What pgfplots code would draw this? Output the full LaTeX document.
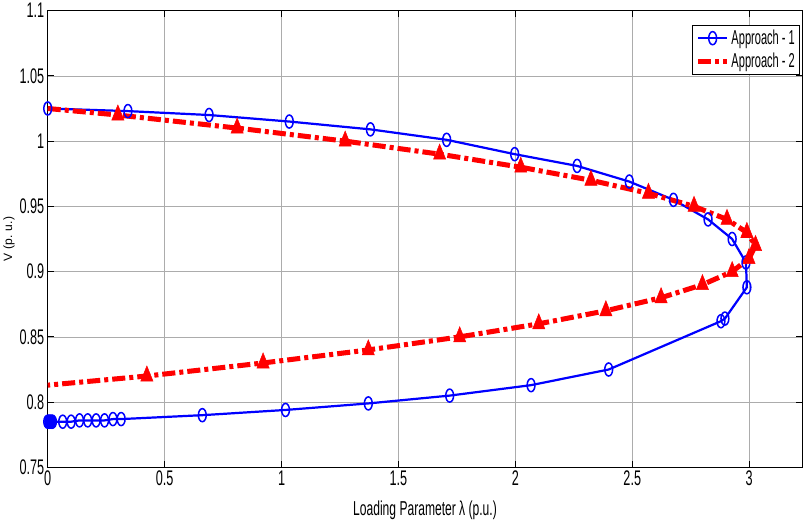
\documentclass[border=0pt]{standalone}
\usepackage{fontspec}
\setmainfont{Liberation Sans}[FakeStretch=0.6]
\newfontfamily\ylabfont{Liberation Sans}
\newfontfamily\legfont{Liberation Sans}[FakeStretch=0.55]
\usepackage{pgfplots}
\pgfplotsset{compat=1.18}

\begin{document}
\begin{tikzpicture}
\begin{axis}[
    scale only axis,
    width=750pt, height=454pt,
    xmin=0, xmax=3.227,
    ymin=0.75, ymax=1.1,
    xtick={0,0.5,...,3},
    ytick={0.75,0.8,...,1.1},
    xticklabels={0,0.5,1,1.5,2,2.5,3},
    yticklabels={0.75,0.8,0.85,0.9,0.95,1,1.05,1.1},
    /pgf/number format/assume math mode=true,
    tick label style={font=\fontsize{21}{23}\selectfont},
    tick align=inside,
    major tick length=6pt,
    grid=major,
    grid style={gray!65, line width=0.7pt},
    axis line style={black, line width=1.4pt},
    major tick style={black, line width=1pt},
    xlabel={Loading Parameter λ (p.u.)},
    ylabel={V (p. u.)},
    xlabel style={font=\fontsize{20}{22}\selectfont, yshift=-8pt},
    ylabel style={font=\ylabfont\fontsize{12}{14}\selectfont, yshift=-2pt},
    legend style={at={(rel axis cs:1,1)}, anchor=north east,
        xshift=-2pt, yshift=-14pt,
        draw=black, line width=0.8pt,
        font=\legfont\fontsize{20}{22}\selectfont,
        row sep=3pt, inner sep=3pt},
    legend cell align=left,
    legend image code/.code={
        \draw[#1] (0cm,0cm) -- (1cm,0cm);
        \draw[#1, only marks] plot coordinates {(0.5cm,0cm)};
    },
]

% Approach - 1
\addplot[color=blue, line width=2.2pt,
    mark=o, mark size=6.5pt,
    mark options={xscale=0.6, line width=1.5pt, solid}] coordinates {
    (0,1.025) (0.343,1.023) (0.690,1.020) (1.033,1.015) (1.380,1.009)
    (1.706,1.001) (1.997,0.990) (2.264,0.981) (2.487,0.969) (2.676,0.955)
    (2.824,0.940) (2.927,0.925) (2.986,0.907) (2.990,0.888) (2.896,0.864)
    (2.879,0.862) (2.399,0.825) (2.067,0.813) (1.719,0.805) (1.371,0.799)
    (1.017,0.794) (0.661,0.790) (0.314,0.787) (0.279,0.787) (0.243,0.786)
    (0.207,0.786) (0.171,0.786) (0.136,0.786) (0.100,0.785) (0.064,0.785)
    (0.020,0.785) (0.015,0.785) (0.010,0.785) (0.005,0.785) (0,0.785)
};
\addlegendentry{Approach - 1}

% overlapping markers near lambda = 0
\addplot[color=blue, only marks, mark=*, mark size=6.5pt,
    mark options={xscale=0.6}, forget plot] coordinates {
    (0.004,0.785) (0.012,0.785) (0.018,0.785)
};

% Approach - 2
\addplot[color=red, line width=5pt,
    dash pattern=on 13pt off 4pt on 4pt off 4pt,
    mark=triangle*, mark size=10pt, mark indices={2,...,22},
    mark options={xscale=0.7, solid, line width=0.5pt}] coordinates {
    (0,1.025) (0.300,1.02) (0.810,1.01) (1.272,1.00) (1.676,0.99)
    (2.023,0.98) (2.323,0.97) (2.569,0.96) (2.764,0.95) (2.905,0.94)
    (2.990,0.93) (3.027,0.92) (2.999,0.91) (2.927,0.90) (2.800,0.89)
    (2.623,0.88) (2.387,0.87) (2.100,0.86) (1.762,0.85) (1.371,0.84)
    (0.921,0.83) (0.424,0.82) (0,0.813)
};
\addlegendentry{Approach - 2}

\end{axis}
\end{tikzpicture}
\end{document}
